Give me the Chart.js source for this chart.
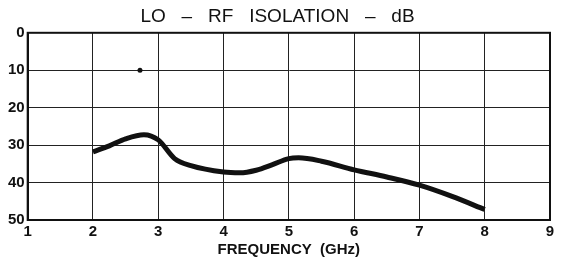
<!DOCTYPE html>
<html>
<head>
<meta charset="utf-8">
<script src="https://cdn.jsdelivr.net/npm/chart.js@4"></script>
<style>
  html, body { margin: 0; padding: 0; background: #fff; }
  #wrap { width: 569px; height: 260px; }
</style>
</head>
<body>
<div id="wrap"><canvas id="grafico"></canvas></div>
<script>
// frecuencia (GHz) y aislamiento (dB)
const frecuencias = [2.0, 2.25, 2.5, 2.78, 3.0, 3.25, 3.5, 4.0, 4.25, 4.5, 4.75, 5.0, 5.15, 5.5, 6.0, 6.5, 7.0, 7.5, 8.0];
const aislamiento = [31.8, 30.2, 28.3, 27.2, 28.6, 33.6, 35.5, 37.2, 37.4, 36.7, 35.2, 33.6, 33.4, 34.3, 36.6, 38.5, 40.7, 43.7, 47.2];
const punto = [{ x: 2.72, y: 10 }];
const ticksX = [1, 2, 3, 4, 5, 6, 7, 8, 9];
const ticksY = [0, 10, 20, 30, 40, 50];

const fuente = 'Liberation Sans, Arial, sans-serif';

new Chart(document.getElementById('grafico'), {
  type: 'line',
  data: {
    datasets: [{
      data: frecuencias.map((f, i) => ({ x: f, y: aislamiento[i] })),
      borderColor: '#111',
      borderWidth: 5,
      pointRadius: 0,
      fill: false,
      cubicInterpolationMode: 'monotone'
    }, {
      data: punto,
      showLine: false,
      pointRadius: 2.5,
      pointBackgroundColor: '#111',
      pointBorderWidth: 0
    }]
  },
  options: {
    responsive: true,
    maintainAspectRatio: false,
    animation: false,
    layout: { padding: { left: 5, right: 19, top: 0, bottom: 0 } },
    plugins: {
      legend: { display: false },
      tooltip: { enabled: false },
      title: {
        display: true,
        text: 'LO   –   RF   ISOLATION   –   dB',
        color: '#111',
        font: { family: fuente, size: 19, weight: 'normal' },
        padding: { top: 5, bottom: 5 }
      }
    },
    scales: {
      x: {
        type: 'linear',
        min: 1,
        max: 9,
        afterBuildTicks: ax => { ax.ticks = ticksX.map(v => ({ value: v })); },
        ticks: { color: '#111', font: { family: fuente, size: 15, weight: 'bold' }, padding: 3 },
        grid: { color: '#222', lineWidth: 1, drawTicks: false },
        border: { color: '#111', width: 2 },
        title: {
          display: true,
          text: 'FREQUENCY  (GHz)',
          color: '#111',
          font: { family: fuente, size: 15, weight: 'bold' },
          padding: { top: -3, bottom: 1 }
        }
      },
      y: {
        reverse: true,
        min: 0,
        max: 50,
        afterBuildTicks: ax => { ax.ticks = ticksY.map(v => ({ value: v })); },
        ticks: { color: '#111', font: { family: fuente, size: 15, weight: 'bold' }, padding: 3 },
        grid: { color: '#222', lineWidth: 1, drawTicks: false },
        border: { color: '#111', width: 2 }
      }
    }
  },
  plugins: [{
    id: 'marco',
    afterDraw(chart) {
      const { ctx, chartArea: a } = chart;
      ctx.save();
      ctx.strokeStyle = '#111';
      ctx.lineWidth = 2;
      ctx.strokeRect(a.left, a.top, a.right - a.left, a.bottom - a.top);
      ctx.restore();
    }
  }]
});
</script>
</body>
</html>
